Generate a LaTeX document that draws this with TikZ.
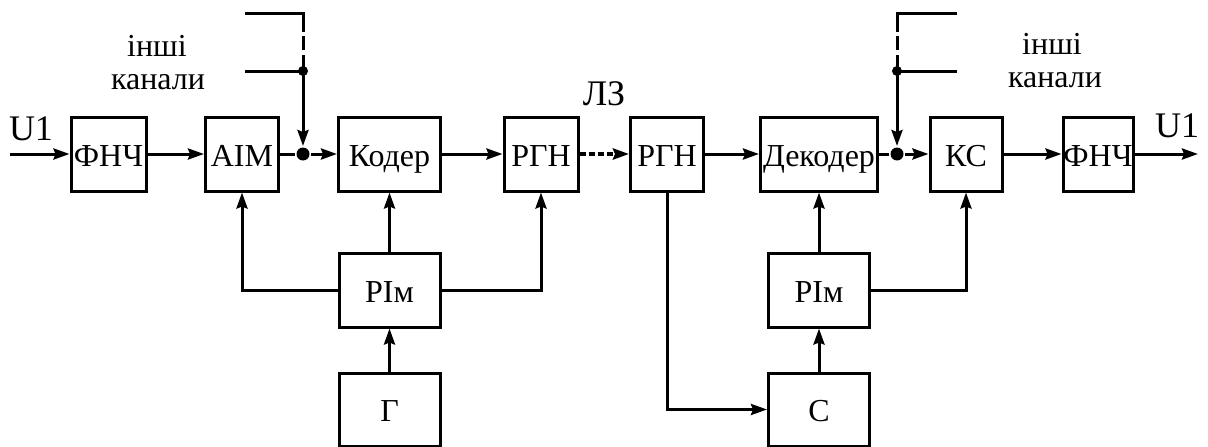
\documentclass[tikz,border=0pt]{standalone}
\usepackage{fontspec}
\setmainfont{Liberation Serif}
\usetikzlibrary{arrows.meta}
\begin{document}
\begin{tikzpicture}[x=1pt,y=-1pt,
  line width=3pt,
  blk/.style={draw, line width=3pt, inner sep=0pt, text height=24pt, text depth=0pt, font=\fontsize{32}{34}\selectfont},
  arr/.style={-{Stealth[length=16pt,width=11pt,inset=2pt]}},
  lbl/.style={font=\fontsize{32}{34}\selectfont, anchor=base, inner sep=0pt},
  big/.style={font=\fontsize{36}{38}\selectfont, anchor=base, inner sep=0pt},
  jdot/.style={circle, fill, inner sep=0pt, minimum size=13pt},
  sdot/.style={circle, fill, inner sep=0pt, minimum size=10pt},
  chan/.style={dash pattern=on 77pt off 4pt on 14pt off 5pt on 30pt},
  chanr/.style={dash pattern=on 79pt off 4pt on 14pt off 5pt on 30pt}
]
\useasboundingbox (0,0) rectangle (1208,447);

% top row
\node[blk, minimum width=75pt, minimum height=74pt] (f1) at (108.5,154) {ФНЧ};
\node[blk, minimum width=73pt, minimum height=74pt] (aim) at (242,154) {АІМ};
\node[blk, minimum width=102pt, minimum height=74pt] (cod) at (389.5,154) {Кодер};
\node[blk, minimum width=74pt, minimum height=74pt] (rgn1) at (541,154) {РГН};
\node[blk, minimum width=73pt, minimum height=74pt] (rgn2) at (667,154) {РГН};
\node[blk, minimum width=117pt, minimum height=74pt] (dec) at (819,154) {Декодер};
\node[blk, minimum width=72pt, minimum height=74pt] (ks) at (966,154) {КС};
\node[blk, minimum width=70pt, minimum height=74pt] (f2) at (1098,154) {ФНЧ};

% lower rows
\node[blk, minimum width=101pt, minimum height=74pt] (rim1) at (389.5,290) {РІм};
\node[blk, minimum width=101pt, minimum height=73pt] (g) at (389.5,409.5) {Г};
\node[blk, minimum width=101pt, minimum height=74pt] (rim2) at (819,290) {РІм};
\node[blk, minimum width=101pt, minimum height=73pt] (c) at (819,409.5) {С};

% junctions and free ends
\node[jdot] (dot1) at (303,154) {};
\node[jdot] (dot2) at (897,154) {};
\node[sdot] (dm1) at (303,71) {};
\node[sdot] (dm2) at (897,71) {};
\coordinate (tl1) at (245,13);
\coordinate (tc1) at (303,13);
\coordinate (ml1) at (245,71);
\coordinate (tr2) at (957,13);
\coordinate (tc2) at (897,13);
\coordinate (mr2) at (957,71);
\coordinate (in) at (10,154);
\coordinate (out) at (1198,154);

% labels
\node[big] (u1l) at (31,140) {U1};
\node[big] (u1r) at (1177,137) {U1};
\node[big] (lz) at (604,105) {ЛЗ};
\node[lbl] (o1) at (157,56) {інші};
\node[lbl] (k1) at (158,89) {канали};
\node[lbl] (o2) at (1052,54) {інші};
\node[lbl] (k2) at (1055,87) {канали};

% main path
\draw[arr] (in) -- (f1);
\draw[arr] (f1) -- (aim);
\draw (aim) -- (dot1);
\draw[arr] (dot1) -- (cod);
\draw[arr] (cod) -- (rgn1);
\draw[arr, line width=4.5pt, dash pattern=on 6pt off 3pt] (rgn1) -- (rgn2);
\draw[arr] (rgn2) -- (dec);
\draw (dec) -- (dot2);
\draw[arr] (dot2) -- (ks);
\draw[arr] (ks) -- (f2);
\draw[arr] (f2) -- (out);

% other channels
\draw[chan] (tl1) -- (tc1) -- (dm1.center);
\draw (ml1) -- (dm1.center);
\draw[arr] (dm1.center) -- (dot1.north);
\draw[chanr] (tr2) -- (tc2) -- (dm2.center);
\draw (mr2) -- (dm2.center);
\draw[arr] (dm2.center) -- (dot2.north);

% timing
\draw[arr] (rim1.west) -| (aim.south);
\draw[arr] (rim1) -- (cod);
\draw[arr] (rim1.east) -| (rgn1.south);
\draw[arr] (g) -- (rim1);
\draw[arr] (rgn2.south) |- (c.west);
\draw[arr] (c) -- (rim2);
\draw[arr] (rim2) -- (dec);
\draw[arr] (rim2.east) -| (ks.south);
\end{tikzpicture}
\end{document}
